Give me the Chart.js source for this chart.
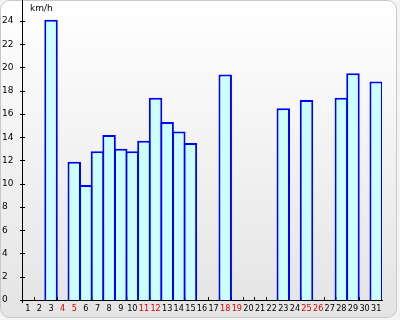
<!DOCTYPE html>
<html>
<head>
<meta charset="utf-8">
<script src="https://cdn.jsdelivr.net/npm/chart.js@4/dist/chart.umd.min.js"></script>
<style>
  html, body { margin: 0; padding: 0; background: #ffffff; }
  #wrap { width: 400px; height: 320px; }
</style>
</head>
<body>
<div id="wrap"><canvas id="myChart" width="400" height="320"></canvas></div>
<script>
const days = ["1", "2", "3", "4", "5", "6", "7", "8", "9", "10", "11", "12", "13", "14", "15", "16",
  "17", "18", "19", "20", "21", "22", "23", "24", "25", "26", "27", "28", "29", "30", "31"];
const weekendDays = ["4", "5", "11", "12", "18", "19", "25", "26"];
const windSpeed = [null, null, 24.1, null, 11.9, 9.9, 12.8, 14.2, 13.0, 12.8, 13.7, 17.4, 15.3, 14.5, 13.5, null,
  null, 19.4, null, null, null, null, 16.5, null, 17.2, null, null, 17.4, 19.5, null, 18.8];
const yTicks = [0, 2, 4, 6, 8, 10, 12, 14, 16, 18, 20, 22, 24];
const unitLabel = "km/h";

const frame = {
  id: "frame",
  beforeDraw(chart) {
    const c = chart.ctx;
    c.save();
    c.fillStyle = "#f4f4f4";
    c.fillRect(0, 0, chart.width, chart.height);
    const g = c.createLinearGradient(0, 0, 0, 318);
    g.addColorStop(0, "#ffffff");
    g.addColorStop(1, "#e4e4e4");
    c.beginPath();
    c.roundRect(0.5, 0.5, 396, 317, 9);
    c.fillStyle = g;
    c.fill();
    c.strokeStyle = "#c8c8c8";
    c.lineWidth = 1;
    c.stroke();
    c.restore();
  },
  beforeDatasetsDraw(chart) {
    const c = chart.ctx;
    const { left, bottom } = chart.chartArea;
    const x = chart.scales.x, y = chart.scales.y;
    c.save();
    c.strokeStyle = "#000";
    c.lineWidth = 1;
    c.beginPath();
    for (let i = 0; i < days.length - 1; i++) {
      const px = Math.round((x.getPixelForTick(i) + x.getPixelForTick(i + 1)) / 2) + 0.5;
      c.moveTo(px, bottom - 3);
      c.lineTo(px, bottom);
    }
    yTicks.forEach(v => {
      const py = Math.round(y.getPixelForValue(v)) + 0.5;
      c.moveTo(left - 2, py);
      c.lineTo(left + 3, py);
    });
    c.moveTo(left + 0.5, bottom);
    c.lineTo(left + 0.5, bottom + 3);
    c.stroke();
    c.fillStyle = "#000";
    c.font = "9px 'DejaVu Sans'";
    c.textBaseline = "middle";
    c.fillText(unitLabel, 30, 9);
    c.restore();
  }
};

const ctx = document.getElementById("myChart").getContext("2d");
const myChart = new Chart(ctx, {
  type: "bar",
  data: {
    labels: days,
    datasets: [
      {
        data: windSpeed,
        backgroundColor: "#ccffff",
        borderColor: "#0000ff",
        borderWidth: 2,
        categoryPercentage: 1,
        barPercentage: 1.16,
      },
    ],
  },
  options: {
    responsive: false,
    animation: false,
    layout: { padding: { left: 2, right: 18, top: 0, bottom: 0 } },
    plugins: { legend: { display: false }, tooltip: { enabled: false } },
    scales: {
      x: {
        offset: true,
        grid: { display: false, drawTicks: false },
        border: { display: true, color: "#000", width: 1 },
        ticks: {
          autoSkip: false,
          maxRotation: 0,
          padding: 3,
          color: c => weekendDays.includes(days[c.index]) ? "#dd0000" : "#000",
          font: { family: "'DejaVu Sans Condensed', 'DejaVu Sans'", size: 9 },
        },
        afterFit: s => { s.height = 20; s.paddingLeft = 0; s.paddingRight = 0; },
      },
      y: {
        min: 0,
        max: 25.8,
        grid: { display: false, drawTicks: false },
        border: { display: true, color: "#000", width: 1 },
        afterBuildTicks: s => { s.ticks = yTicks.map(v => ({ value: v })); },
        ticks: {
          crossAlign: "far",
          color: "#000",
          font: { family: "DejaVu Sans", size: 9 },
        },
        afterFit: s => { s.width = 20; s.paddingTop = 0; s.paddingBottom = 0; },
      },
    },
  },
  plugins: [frame],
});
</script>
</body>
</html>
